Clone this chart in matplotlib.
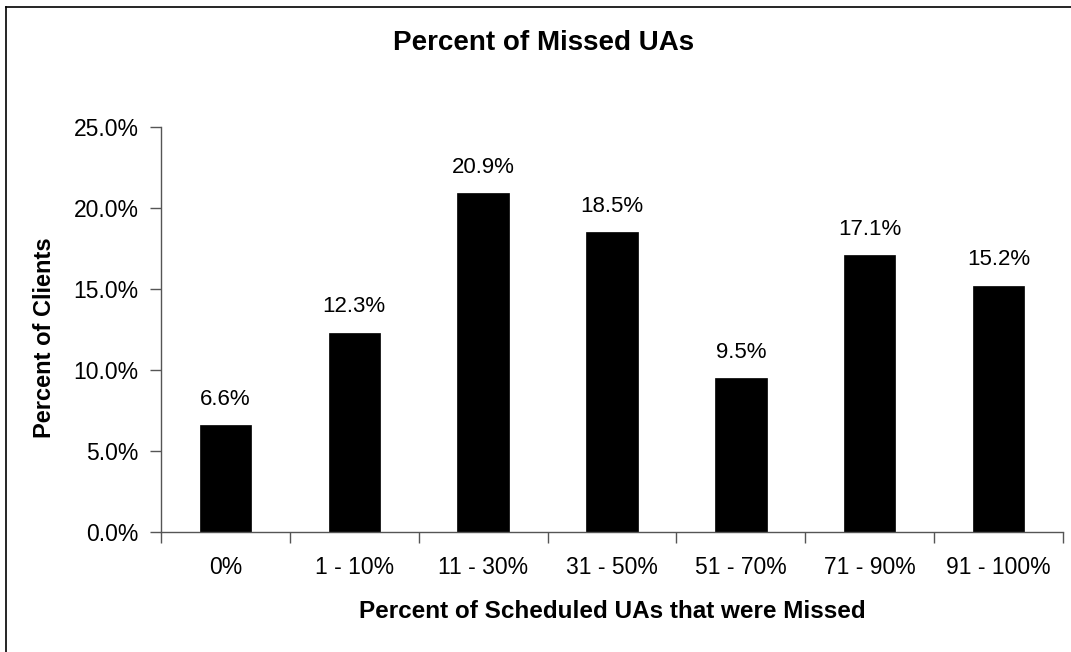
import numpy as np
import matplotlib
matplotlib.use('Agg')
import matplotlib.pyplot as plt
from matplotlib.lines import Line2D
from matplotlib.ticker import FuncFormatter

plt.rcParams['font.family'] = ['Liberation Sans', 'DejaVu Sans']

# data
categories = ['0%', '1 - 10%', '11 - 30%', '31 - 50%', '51 - 70%', '71 - 90%', '91 - 100%']
pct_clients = [6.6, 12.3, 20.9, 18.5, 9.5, 17.1, 15.2]
y_ticks = [0, 5, 10, 15, 20, 25]

W, H = 1071, 652
fig = plt.figure(figsize=(W / 100, H / 100), dpi=100)
ax = fig.add_axes([161 / W, 1 - 532 / H, (1063 - 161) / W, (532 - 127) / H])

x = np.arange(len(categories))
ax.bar(x, pct_clients, width=0.4, color='black', edgecolor='black', linewidth=0.5)

# value labels above the bars
for xi, v in zip(x, pct_clients):
    ax.annotate(f'{v:.1f}%', (xi, v), xytext=(0, 11), textcoords='offset points',
                ha='center', va='bottom', fontsize=16)

ax.set_xlim(-0.5, len(categories) - 0.5)
ax.set_ylim(0, 25)
ax.set_yticks(y_ticks)
ax.yaxis.set_major_formatter(FuncFormatter(lambda v, p: f'{v:.1f}%'))

# category labels in the middle, tick marks on the boundaries
ax.set_xticks(x)
ax.set_xticklabels(categories)
ax.set_xticks(np.arange(len(categories) + 1) - 0.5, minor=True)
ax.tick_params(axis='x', which='major', length=0, pad=17, labelsize=16.5)
ax.tick_params(axis='x', which='minor', length=8, width=1, color='#555555')
ax.tick_params(axis='y', length=8, width=1, color='#555555', pad=8, labelsize=16.5)

for side in ['top', 'right']:
    ax.spines[side].set_visible(False)
for side in ['left', 'bottom']:
    ax.spines[side].set_color('#555555')
    ax.spines[side].set_linewidth(1)

ax.set_xlabel('Percent of Scheduled UAs that were Missed', fontsize=17.5, fontweight='bold')
ax.xaxis.label.set_va('center')
ax.xaxis.set_label_coords(0.5, -80 / 405)
ax.set_ylabel('Percent of Clients', fontsize=17, fontweight='bold')
ax.yaxis.label.set_va('center')
ax.yaxis.set_label_coords(-116 / 902, (532 - 338) / 405)

fig.text(544 / W, 1 - 43 / H, 'Percent of Missed UAs', ha='center', va='center',
         fontsize=20, fontweight='bold')

# chart frame (only left and top edges fall inside the image)
fig.add_artist(Line2D([5.5 / W, 5.5 / W], [0, 1 - 6.5 / H], transform=fig.transFigure,
                      color='black', linewidth=1.2))
fig.add_artist(Line2D([5.5 / W, 1], [1 - 6.5 / H, 1 - 6.5 / H], transform=fig.transFigure,
                      color='black', linewidth=1.2))

fig.savefig('out.png', dpi=100)
